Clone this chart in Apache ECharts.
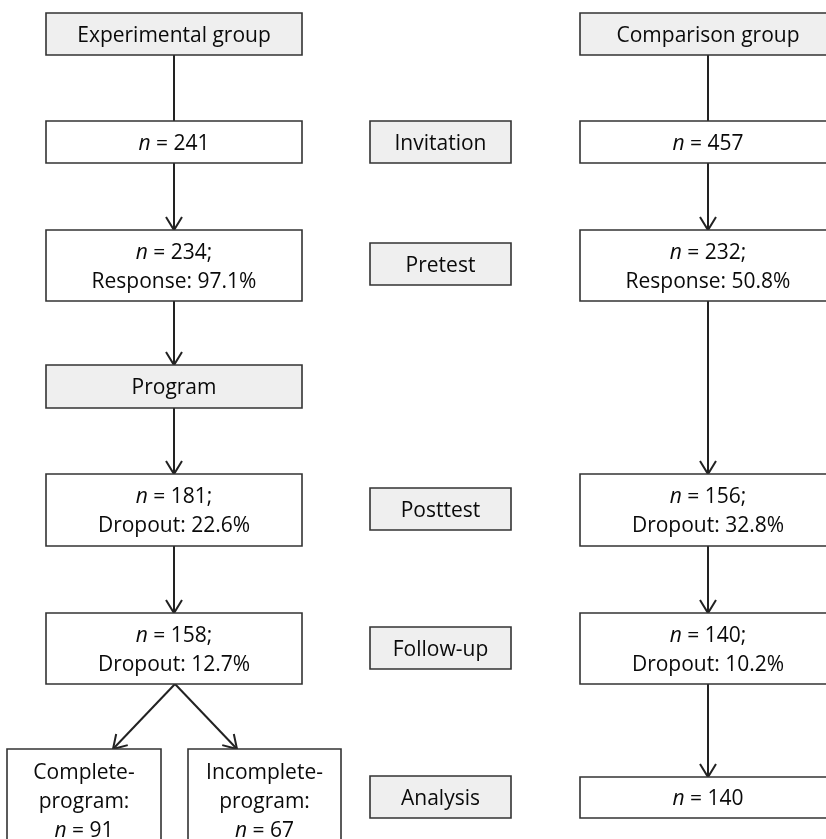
<!DOCTYPE html>
<html>
<head>
<meta charset="utf-8">
<script src="https://cdn.jsdelivr.net/npm/echarts@6/dist/echarts.min.js"></script>
<style>
html,body{margin:0;padding:0;background:#fff;}
#chart{width:826px;height:839px;}
</style>
</head>
<body>
<div id="chart"></div>
<script>
// ---------- content ----------
const stageLabels  = ['Invitation', 'Pretest', 'Posttest', 'Follow-up', 'Analysis'];
const groupLabels  = ['Experimental group', 'Comparison group'];
const programLabel = 'Program';
const expCounts    = [241, 234, 181, 158];
const expNotes     = ['', 'Response: 97.1%', 'Dropout: 22.6%', 'Dropout: 12.7%'];
const cmpCounts    = [457, 232, 156, 140, 140];
const cmpNotes     = ['', 'Response: 50.8%', 'Dropout: 32.8%', 'Dropout: 10.2%', ''];
const splitLabels  = ['Complete-\nprogram:', 'Incomplete-\nprogram:'];
const splitCounts  = [91, 67];

// ---------- layout (diagram units on hidden axes) ----------
const colX = { exp: [46, 302], mid: [370, 511], cmp: [580, 836], splitA: [7, 161], splitB: [188, 341] };
const rowY = {
  group: [13, 55], invitation: [121, 163], pretest: [230, 301], program: [365, 408],
  posttest: [474, 546], followup: [613, 684], analysis: [777, 818], split: [749, 853]
};
const stageRowY = [[121, 163], [243, 285], [488, 530], [627, 669], [776, 818]];
const expRows = ['invitation', 'pretest', 'posttest', 'followup'];
const cmpRows = ['invitation', 'pretest', 'posttest', 'followup', 'analysis'];

const FONT = 'Open Sans';
const FS = 21;
const LH = 29;
const TEXT_NUDGE = 2;
const GRAY = '#efefef';
const INK = '#0a0a0a';

function countText(n, note) {
  let t = '{i|n}{r| = ' + n + (note ? ';' : '') + '}';
  if (note) t += '\n{r|' + note + '}';
  return t;
}

// ---------- nodes ----------
const nodes = {};
function addNode(id, x, y, text, fill, textY) {
  nodes[id] = { x: x, y: y, text: text, fill: fill, textY: textY };
}
addNode('expGroup', colX.exp, rowY.group, '{r|' + groupLabels[0] + '}', GRAY);
addNode('cmpGroup', colX.cmp, rowY.group, '{r|' + groupLabels[1] + '}', GRAY);
expRows.forEach((r, i) => addNode('exp_' + r, colX.exp, rowY[r], countText(expCounts[i], expNotes[i]), '#fff'));
cmpRows.forEach((r, i) => addNode('cmp_' + r, colX.cmp, rowY[r], countText(cmpCounts[i], cmpNotes[i]), '#fff'));
addNode('program', colX.exp, rowY.program, '{r|' + programLabel + '}', GRAY);
stageLabels.forEach((s, i) => addNode('stage_' + i, colX.mid, stageRowY[i], '{r|' + s + '}', GRAY));
addNode('splitA', colX.splitA, rowY.split,
  splitLabels[0].split('\n').map(s => '{r|' + s + '}').join('\n') + '\n{i|n}{r| = ' + splitCounts[0] + '}', '#fff', 800);
addNode('splitB', colX.splitB, rowY.split,
  splitLabels[1].split('\n').map(s => '{r|' + s + '}').join('\n') + '\n{i|n}{r| = ' + splitCounts[1] + '}', '#fff', 800);

const nodeIds = Object.keys(nodes);

// ---------- edges ----------
const edgeDefs = [
  ['expGroup', 'exp_invitation', false],
  ['exp_invitation', 'exp_pretest', true],
  ['exp_pretest', 'program', true],
  ['program', 'exp_posttest', true],
  ['exp_posttest', 'exp_followup', true],
  ['exp_followup', 'splitA', true],
  ['exp_followup', 'splitB', true],
  ['cmpGroup', 'cmp_invitation', false],
  ['cmp_invitation', 'cmp_pretest', true],
  ['cmp_pretest', 'cmp_posttest', true],
  ['cmp_posttest', 'cmp_followup', true],
  ['cmp_followup', 'cmp_analysis', true]
];
const trunkX = { exp: 174, cmp: 708 };
function centerX(n) { return (n.x[0] + n.x[1]) / 2; }
const edgeData = edgeDefs.map(e => {
  const a = nodes[e[0]], b = nodes[e[1]];
  let ax = centerX(a), bx = centerX(b);
  if (a.x === colX.exp) ax = trunkX.exp;
  if (a.x === colX.cmp) ax = trunkX.cmp;
  if (b.x === colX.exp) bx = trunkX.exp;
  if (b.x === colX.cmp) bx = trunkX.cmp;
  if (e[1] === 'splitA') { ax = 175; bx = 113; }
  if (e[1] === 'splitB') { ax = 175; bx = 237; }
  return [ax, a.y[1], bx, b.y[0], e[2] ? 1 : 0];
});

const boxData = nodeIds.map((id, i) => {
  const n = nodes[id];
  return [n.x[0], n.y[0], n.x[1], n.y[1], i];
});

const richStyles = {
  i: { fontStyle: 'italic', fontFamily: FONT, fontSize: FS, lineHeight: LH, fill: INK },
  r: { fontFamily: FONT, fontSize: FS, lineHeight: LH, fill: INK }
};

const chart = echarts.init(document.getElementById('chart'), null, { renderer: 'canvas' });
chart.setOption({
  animation: false,
  backgroundColor: '#fff',
  grid: { left: 0, right: 0, top: 0, bottom: 0 },
  xAxis: { type: 'value', min: 0, max: 826, show: false },
  yAxis: { type: 'value', min: 0, max: 839, inverse: true, show: false },
  series: [
    {
      type: 'custom',
      name: 'edges',
      coordinateSystem: 'cartesian2d',
      silent: true,
      data: edgeData,
      renderItem: function (params, api) {
        const p0 = api.coord([api.value(0), api.value(1)]);
        const p1 = api.coord([api.value(2), api.value(3)]);
        const children = [{
          type: 'line',
          shape: { x1: p0[0], y1: p0[1], x2: p1[0], y2: p1[1] },
          style: { stroke: '#222', lineWidth: 2 }
        }];
        if (api.value(4)) {
          const dx = p1[0] - p0[0], dy = p1[1] - p0[1];
          const len = Math.sqrt(dx * dx + dy * dy);
          const ux = dx / len, uy = dy / len;
          const back = 13, half = 8;
          const bxp = p1[0] - ux * back, byp = p1[1] - uy * back;
          children.push({
            type: 'polyline',
            shape: { points: [[bxp - uy * half, byp + ux * half], [p1[0], p1[1]], [bxp + uy * half, byp - ux * half]] },
            style: { stroke: '#222', lineWidth: 2, fill: null, lineJoin: 'miter' }
          });
        }
        return { type: 'group', children: children };
      }
    },
    {
      type: 'custom',
      name: 'boxes',
      coordinateSystem: 'cartesian2d',
      silent: true,
      data: boxData,
      renderItem: function (params, api) {
        const p0 = api.coord([api.value(0), api.value(1)]);
        const p1 = api.coord([api.value(2), api.value(3)]);
        const n = nodes[nodeIds[api.value(4)]];
        const ty = (n.textY ? api.coord([0, n.textY])[1] : (p0[1] + p1[1]) / 2) + TEXT_NUDGE;
        return {
          type: 'group',
          children: [
            {
              type: 'rect',
              shape: { x: p0[0], y: p0[1], width: p1[0] - p0[0], height: p1[1] - p0[1] },
              style: { fill: n.fill, stroke: '#333', lineWidth: 1.6 }
            },
            {
              type: 'text',
              x: (p0[0] + p1[0]) / 2,
              y: ty,
              style: {
                text: n.text,
                rich: richStyles,
                fontFamily: FONT,
                fontSize: FS,
                lineHeight: LH,
                fill: INK,
                align: 'center',
                verticalAlign: 'middle'
              }
            }
          ]
        };
      }
    }
  ]
});
</script>
</body>
</html>
